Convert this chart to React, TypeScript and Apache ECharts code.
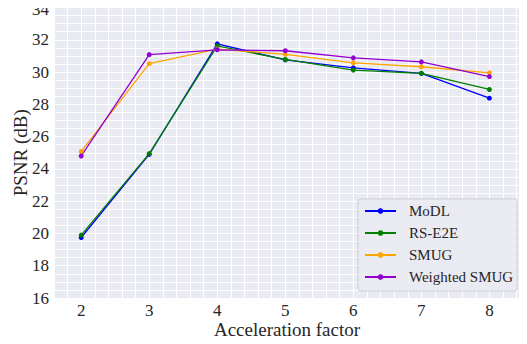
import React, { useEffect, useRef } from "react";
import * as echarts from "echarts";

const factors = [2, 3, 4, 5, 6, 7, 8];
const modl = [19.75, 24.9, 31.75, 30.75, 30.26, 29.92, 28.38];
const rsE2E = [19.9, 24.95, 31.62, 30.78, 30.12, 29.92, 28.92];
const smug = [25.08, 30.52, 31.42, 31.1, 30.57, 30.33, 29.95];
const weightedSmug = [24.8, 31.08, 31.38, 31.32, 30.88, 30.63, 29.72];

const seriesNames = ["MoDL", "RS-E2E", "SMUG", "Weighted SMUG"];
const seriesValues = [modl, rsE2E, smug, weightedSmug];
const seriesColors = ["#0000ff", "#008000", "#ffa500", "#9400d3"];

const FONT = "'Liberation Serif', 'Times New Roman', serif";

export default function App() {
  const ref = useRef<HTMLDivElement>(null);
  useEffect(() => {
    if (!ref.current) return;
    const chart = echarts.init(ref.current, undefined, { renderer: "svg" });
    const isInt = (v: number) => Math.abs(v - Math.round(v)) < 1e-6;
    chart.setOption({
      animation: false,
      textStyle: { fontFamily: FONT },
      grid: {
        left: 54,
        right: 7,
        top: 7.5,
        bottom: 46,
        show: true,
        backgroundColor: "#eaeaf2",
        borderWidth: 0,
        containLabel: false,
        outerBoundsMode: "none",
      },
      xAxis: {
        type: "value",
        min: 1.6,
        max: 8.45,
        interval: 0.2,
        name: "Acceleration factor",
        nameLocation: "middle",
        nameGap: 23,
        nameMoveOverlap: false,
        nameTextStyle: { fontFamily: FONT, fontSize: 19, lineHeight: 17, color: "#262626" },
        axisLine: { show: false },
        axisTick: { show: false },
        axisLabel: {
          fontFamily: FONT,
          fontSize: 17,
          lineHeight: 15,
          color: "#262626",
          margin: 5,
          formatter: (v: number) => (isInt(v) ? String(Math.round(v)) : ""),
        },
        splitLine: { show: true, lineStyle: { color: "#ffffff", width: 1 } },
      },
      yAxis: {
        type: "value",
        min: 16,
        max: 34,
        interval: 0.5,
        name: "PSNR (dB)",
        nameLocation: "middle",
        nameGap: 25,
        nameMoveOverlap: false,
        nameTextStyle: { fontFamily: FONT, fontSize: 19, lineHeight: 17, color: "#262626" },
        axisLine: { show: false },
        axisTick: { show: false },
        axisLabel: {
          fontFamily: FONT,
          fontSize: 17,
          lineHeight: 14,
          color: "#262626",
          margin: 5,
          formatter: (v: number) => {
            if (!(isInt(v) && Math.round(v) % 2 === 0)) return "";
            const s = String(Math.round(v));
            return Math.round(v) === 34 ? "{top|" + s + "}" : s;
          },
          rich: {
            top: { fontFamily: FONT, fontSize: 17, lineHeight: 14, color: "#262626", padding: [4, 0, 0, 0] },
          },
        },
        splitLine: { show: true, lineStyle: { color: "#ffffff", width: 1 } },
      },
      legend: {
        orient: "vertical",
        left: 358,
        top: 199,
        padding: [4, 4, 6, 6],
        itemWidth: 31,
        itemHeight: 7,
        itemGap: 6,
        backgroundColor: "rgba(234,234,242,0.85)",
        borderColor: "#cfcfd6",
        borderWidth: 1,
        borderRadius: 3,
        textStyle: { fontFamily: FONT, fontSize: 15, color: "#262626", lineHeight: 16, padding: [0, 0, 0, 8] },
        data: seriesNames,
      },
      series: seriesNames.map((name, i) => ({
        name,
        type: "line",
        data: factors.map((f, j) => [f, seriesValues[i][j]]),
        symbol: "circle",
        symbolSize: 5,
        color: seriesColors[i],
        lineStyle: { width: 1.3, color: seriesColors[i] },
        itemStyle: { color: seriesColors[i] },
      })),
    });
    return () => chart.dispose();
  }, []);
  return <div ref={ref} style={{ width: 527, height: 344, margin: -8 }} />;
}
